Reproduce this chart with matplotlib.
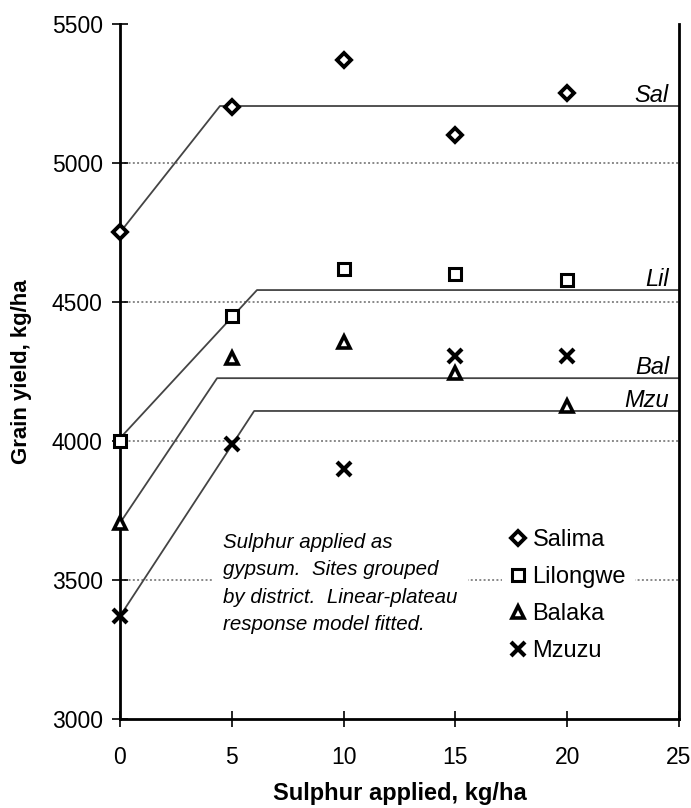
import numpy as np
import matplotlib
matplotlib.use("Agg")
import matplotlib.pyplot as plt
from matplotlib.lines import Line2D

plt.rcParams['font.family'] = ['Liberation Sans', 'DejaVu Sans']

# sulphur rates, kg/ha
rates = [0, 5, 10, 15, 20]

# grain yield, kg/ha, by district
salima = [4750, 5200, 5370, 5100, 5250]
lilongwe = [4000, 4450, 4620, 4600, 4580]
balaka = [3705, 4300, 4355, 4245, 4125]
mzuzu = [3370, 3990, 3900, 4305, 4305]

districts = ['Salima', 'Lilongwe', 'Balaka', 'Mzuzu']
short = ['Sal', 'Lil', 'Bal', 'Mzu']

# linear-plateau fits: intercept, slope, plateau
intercepts = [4750, 4010, 3705, 3370]
slopes = [101.8, 87.0, 120.0, 123.0]
plateaus = [5205, 4543, 4226, 4108]

markers = ['D', 's', '^', 'x']
msizes = [7, 9, 9, 10]
mews = [2.8, 2.2, 2.6, 3]

fig = plt.figure(figsize=(6.91, 8.08), dpi=100)
ax = fig.add_axes([120/691, 1-719/808, 559/691, 695/808])

ax.set_xlim(0, 25)
ax.set_ylim(3000, 5500)

# dotted gridlines
for g in [3500, 4000, 4500, 5000]:
    ax.axhline(g, color='#888888', lw=1.4, ls=(0, (1, 1.2)), zorder=1)

allys = [salima, lilongwe, balaka, mzuzu]
for i in range(4):
    a, b, p = intercepts[i], slopes[i], plateaus[i]
    xb = (p - a) / b
    xs = np.array([0, xb, 25])
    ax.plot(xs, np.minimum(a + b*xs, p), color='#444444', lw=1.3, zorder=2)
    ax.text(24.55, p + 15, short[i], ha='right', va='baseline',
            fontsize=17, style='italic', zorder=4)
    ax.plot(rates, allys[i], ls='none', marker=markers[i], ms=msizes[i],
            mfc='white', mec='black', mew=mews[i], zorder=5, clip_on=False)

ax.text(4.6, 3670, 'Sulphur applied as\ngypsum.  Sites grouped\nby district.  Linear-plateau\nresponse model fitted.',
        ha='left', va='top', fontsize=14.8, style='italic', linespacing=1.56,
        bbox=dict(facecolor='white', edgecolor='none', pad=8), zorder=3)

handles = [Line2D([], [], ls='none', marker=markers[i], ms=msizes[i],
                  mfc='white', mec='black', mew=mews[i])
           for i in range(4)]
leg = ax.legend(handles, districts, loc='upper left', bbox_to_anchor=(0.683, 0.287),
                borderaxespad=0, fontsize=17, handlelength=0.6, handletextpad=0.3,
                labelspacing=0.64, frameon=True, fancybox=False, framealpha=1,
                facecolor='white', edgecolor='none', borderpad=0.4)
leg.set_zorder(3)

ax.set_xticks([0, 5, 10, 15, 20, 25])
ax.set_yticks([3000, 3500, 4000, 4500, 5000, 5500])
ax.tick_params(axis='both', direction='inout', length=11, width=1.2, labelsize=16.5)
ax.tick_params(axis='y', pad=7)
ax.tick_params(axis='x', pad=14)

ax.spines['top'].set_visible(False)
for s in ['left', 'bottom', 'right']:
    ax.spines[s].set_linewidth(2)

ax.set_xlabel('Sulphur applied, kg/ha', fontsize=17, fontweight='bold', labelpad=9)
ax.set_ylabel('Grain yield, kg/ha', fontsize=16, fontweight='bold', labelpad=14)

fig.savefig('out.png', dpi=100)
